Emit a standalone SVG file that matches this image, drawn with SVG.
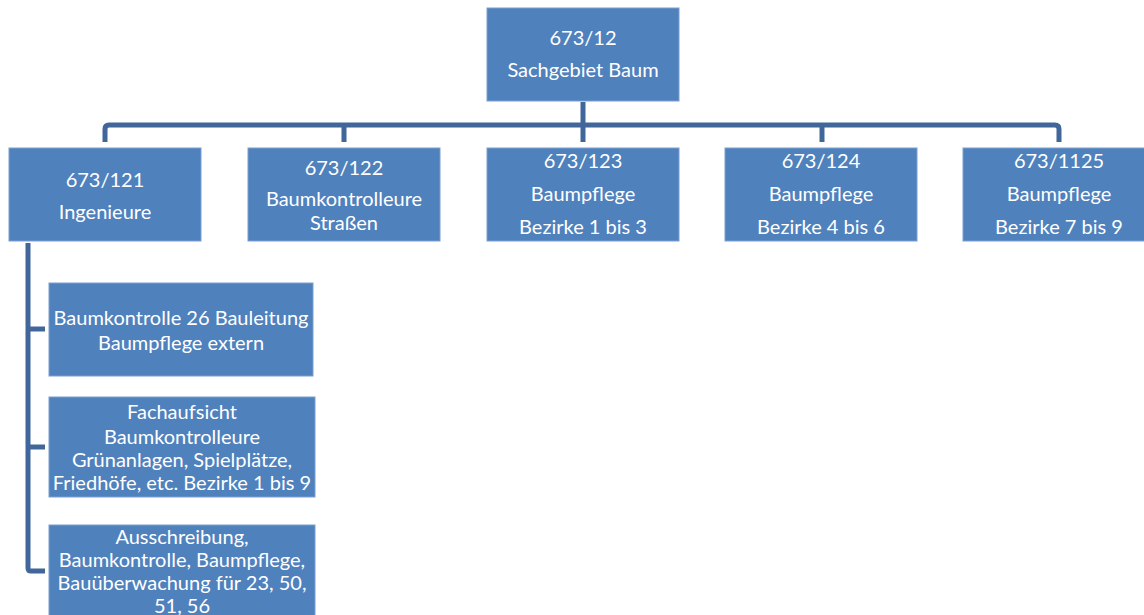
<svg xmlns="http://www.w3.org/2000/svg" width="1144" height="615" viewBox="0 0 1144 615">
<style>
.box{fill:#4f81bd;stroke:#7a9fd0;stroke-width:1}
.t{font-family:Lato,"Open Sans","Liberation Sans",sans-serif;font-size:20px;fill:#ffffff;text-anchor:middle}
.c{fill:none;stroke:#41679a;stroke-width:5;stroke-linejoin:round}
</style>
<rect width="1144" height="615" fill="#ffffff"/>
<g id="connectors">
<path class="c" d="M583 102 V142"/>
<path class="c" d="M105 142 V129 Q105 125 109 125 H1055 Q1059 125 1059 129 V142"/>
<path class="c" d="M344 125 V142"/>
<path class="c" d="M822 125 V142"/>
<path class="c" d="M28 243 V568 Q28 571 31 571 H45"/>
<path class="c" d="M28 329 H45"/>
<path class="c" d="M28 447 H45"/>
</g>
<g id="n0"><rect class="box" x="487" y="8" width="192" height="93"/>
<text class="t" x="583" y="45">673/12</text><text class="t" x="583" y="77">Sachgebiet Baum</text></g>
<g id="n1"><rect class="box" x="9" y="148" width="192" height="93"/>
<text class="t" x="105" y="187">673/121</text><text class="t" x="105" y="219">Ingenieure</text></g>
<g id="n2"><rect class="box" x="248" y="148" width="192" height="93"/>
<text class="t" x="344" y="175">673/122</text><text class="t" x="344" y="206">Baumkontrolleure</text><text class="t" x="344" y="230">Straßen</text></g>
<g id="n3"><rect class="box" x="487" y="148" width="192" height="93"/>
<text class="t" x="583" y="168">673/123</text><text class="t" x="583" y="201">Baumpflege</text><text class="t" x="583" y="234">Bezirke 1 bis 3</text></g>
<g id="n4"><rect class="box" x="725" y="148" width="192" height="93"/>
<text class="t" x="821" y="168">673/124</text><text class="t" x="821" y="201">Baumpflege</text><text class="t" x="821" y="234">Bezirke 4 bis 6</text></g>
<g id="n5"><rect class="box" x="963" y="148" width="192" height="93"/>
<text class="t" x="1059" y="168">673/1125</text><text class="t" x="1059" y="201">Baumpflege</text><text class="t" x="1059" y="234">Bezirke 7 bis 9</text></g>
<g id="n6"><rect class="box" x="49" y="283" width="264" height="93"/>
<text class="t" x="181" y="325">Baumkontrolle 26 Bauleitung</text><text class="t" x="181" y="350">Baumpflege extern</text></g>
<g id="n7"><rect class="box" x="49" y="397" width="266" height="100"/>
<text class="t" x="182" y="419">Fachaufsicht</text><text class="t" x="182" y="444">Baumkontrolleure</text><text class="t" x="182" y="467">Grünanlagen, Spielplätze,</text><text class="t" x="182" y="490">Friedhöfe, etc. Bezirke 1 bis 9</text></g>
<g id="n8"><rect class="box" x="49" y="525" width="266" height="100"/>
<text class="t" x="182" y="544">Ausschreibung,</text><text class="t" x="182" y="567">Baumkontrolle, Baumpflege,</text><text class="t" x="182" y="590">Bauüberwachung für 23, 50,</text><text class="t" x="182" y="613">51, 56</text></g>
</svg>
